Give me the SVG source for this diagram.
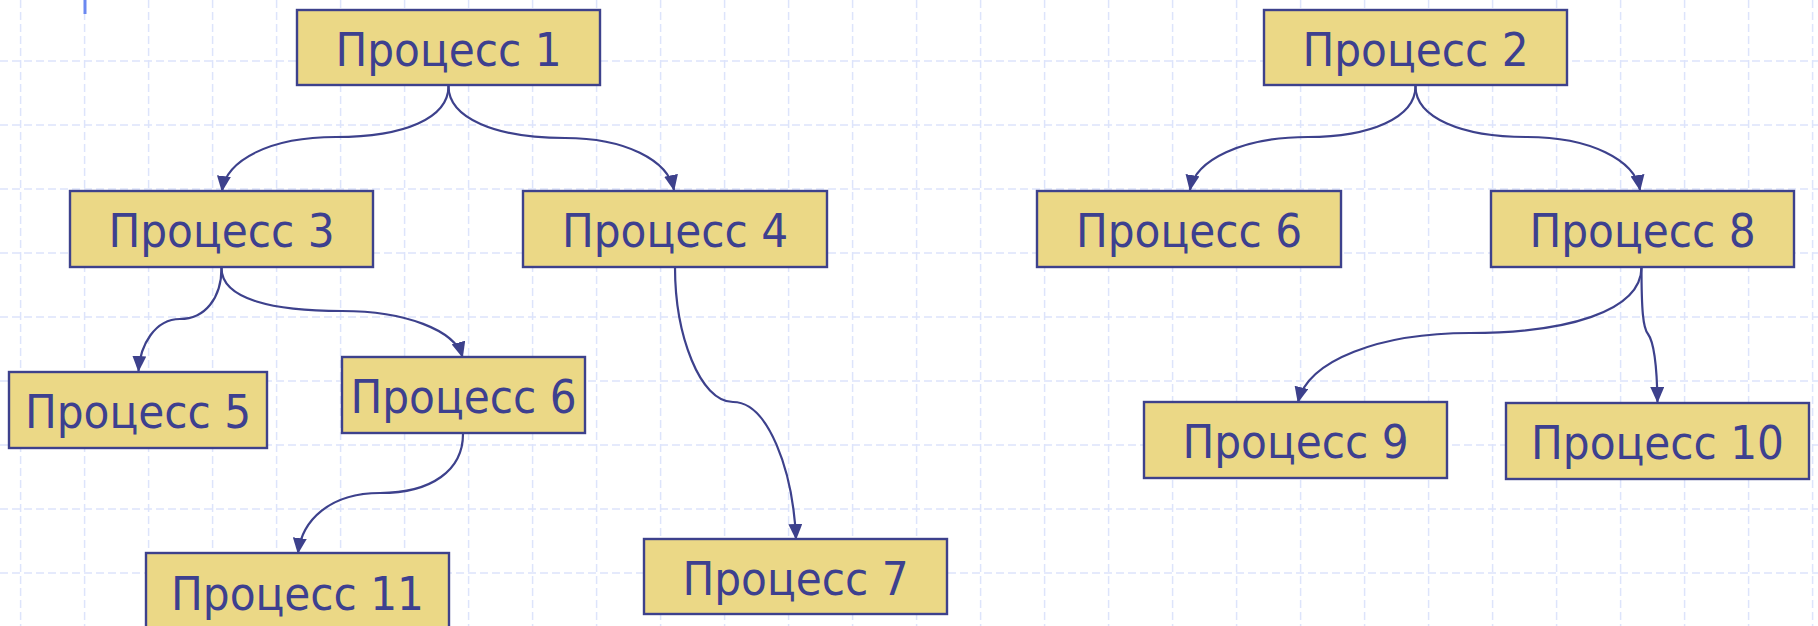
<svg xmlns="http://www.w3.org/2000/svg" width="1818" height="626" viewBox="0 0 1818 626">
<defs>
<style>
.grid line{stroke:#dde4fb;stroke-width:1.5;stroke-dasharray:8 4}
.node rect{fill:#ebd886;stroke:#3d418c;stroke-width:2.4}
.node text{font-family:"DejaVu Sans Condensed","DejaVu Sans",sans-serif;font-stretch:condensed;font-size:47px;fill:#3d408f;text-anchor:middle}
.conn path{fill:none;stroke:#3d418c;stroke-width:2.2;marker-end:url(#arr)}
</style>
<marker id="arr" viewBox="0 0 16 14" refX="15" refY="7" markerWidth="16" markerHeight="14" markerUnits="userSpaceOnUse" orient="auto">
<path d="M0,0 L16,7 L0,14 z" fill="#3d418c"/>
</marker>
</defs>
<rect width="1818" height="626" fill="#ffffff"/>
<g class="grid">
<line x1="20.6" y1="0" x2="20.6" y2="626"/><line x1="84.6" y1="0" x2="84.6" y2="626"/><line x1="148.6" y1="0" x2="148.6" y2="626"/><line x1="212.6" y1="0" x2="212.6" y2="626"/><line x1="276.6" y1="0" x2="276.6" y2="626"/><line x1="340.6" y1="0" x2="340.6" y2="626"/><line x1="404.6" y1="0" x2="404.6" y2="626"/><line x1="468.6" y1="0" x2="468.6" y2="626"/><line x1="532.6" y1="0" x2="532.6" y2="626"/><line x1="596.6" y1="0" x2="596.6" y2="626"/><line x1="660.6" y1="0" x2="660.6" y2="626"/><line x1="724.6" y1="0" x2="724.6" y2="626"/><line x1="788.6" y1="0" x2="788.6" y2="626"/><line x1="852.6" y1="0" x2="852.6" y2="626"/><line x1="916.6" y1="0" x2="916.6" y2="626"/><line x1="980.6" y1="0" x2="980.6" y2="626"/><line x1="1044.6" y1="0" x2="1044.6" y2="626"/><line x1="1108.6" y1="0" x2="1108.6" y2="626"/><line x1="1172.6" y1="0" x2="1172.6" y2="626"/><line x1="1236.6" y1="0" x2="1236.6" y2="626"/><line x1="1300.6" y1="0" x2="1300.6" y2="626"/><line x1="1364.6" y1="0" x2="1364.6" y2="626"/><line x1="1428.6" y1="0" x2="1428.6" y2="626"/><line x1="1492.6" y1="0" x2="1492.6" y2="626"/><line x1="1556.6" y1="0" x2="1556.6" y2="626"/><line x1="1620.6" y1="0" x2="1620.6" y2="626"/><line x1="1684.6" y1="0" x2="1684.6" y2="626"/><line x1="1748.6" y1="0" x2="1748.6" y2="626"/><line x1="1812.6" y1="0" x2="1812.6" y2="626"/>
<line x1="0" y1="61" x2="1818" y2="61"/><line x1="0" y1="125" x2="1818" y2="125"/><line x1="0" y1="189" x2="1818" y2="189"/><line x1="0" y1="253" x2="1818" y2="253"/><line x1="0" y1="317" x2="1818" y2="317"/><line x1="0" y1="381" x2="1818" y2="381"/><line x1="0" y1="445" x2="1818" y2="445"/><line x1="0" y1="509" x2="1818" y2="509"/><line x1="0" y1="573" x2="1818" y2="573"/>
</g>
<line x1="85" y1="0" x2="85" y2="14" stroke="#6b88f0" stroke-width="3"/>
<g class="conn">
<path d="M448.5,86 C448.5,118 405,137 336,137 C270,137 226,160 222,191"/>
<path d="M448.5,86 C448.5,118 495,138 565,138 C625,138 668,160 674,190"/>
<path d="M221.5,268 C221.5,298 205,319 180,319 C155,319 140,345 138.5,371"/>
<path d="M221.5,268 C221.5,300 275,311 342,311 C405,311 455,330 462.5,357"/>
<path d="M463,434 C463,470 432,493 380,493 C330,493 302,520 298,553"/>
<path d="M675,267 C675,335 700,402 733,402 C768,402 793,470 796,539"/>
<path d="M1415.5,86 C1415.5,118 1370,137 1308,137 C1242,137 1195,160 1190,190"/>
<path d="M1415.5,86 C1415.5,118 1462,137 1527,137 C1590,137 1635,160 1640,190"/>
<path d="M1641.5,267 C1641.5,312 1565,333 1470,333 C1380,333 1308,360 1298,402"/>
<path d="M1641.5,267 C1641.5,310 1643,328 1648,334 C1654,342 1657,370 1657.5,402"/>
</g>
<g id="n1" class="node"><rect x="297" y="10" width="303" height="75"/><text x="448.5" y="65.5">Процесс 1</text></g>
<g id="n2" class="node"><rect x="1264" y="10" width="303" height="75"/><text x="1415.5" y="65.5">Процесс 2</text></g>
<g id="n3" class="node"><rect x="70" y="191" width="303" height="76"/><text x="221.5" y="247">Процесс 3</text></g>
<g id="n4" class="node"><rect x="523" y="191" width="304" height="76"/><text x="675" y="247">Процесс 4</text></g>
<g id="n6b" class="node"><rect x="1037" y="191" width="304" height="76"/><text x="1189" y="247">Процесс 6</text></g>
<g id="n8" class="node"><rect x="1491" y="191" width="303" height="76"/><text x="1642.5" y="247">Процесс 8</text></g>
<g id="n5" class="node"><rect x="9" y="372" width="258" height="76"/><text x="138" y="428">Процесс 5</text></g>
<g id="n6a" class="node"><rect x="342" y="357" width="243" height="76"/><text x="463.5" y="413">Процесс 6</text></g>
<g id="n9" class="node"><rect x="1144" y="402" width="303" height="76"/><text x="1295.5" y="458">Процесс 9</text></g>
<g id="n10" class="node"><rect x="1506" y="403" width="303" height="76"/><text x="1657.5" y="459">Процесс 10</text></g>
<g id="n11" class="node"><rect x="146" y="553" width="303" height="80"/><text x="297.5" y="610">Процесс 11</text></g>
<g id="n7" class="node"><rect x="644" y="539" width="303" height="75"/><text x="795.5" y="595">Процесс 7</text></g>
</svg>
